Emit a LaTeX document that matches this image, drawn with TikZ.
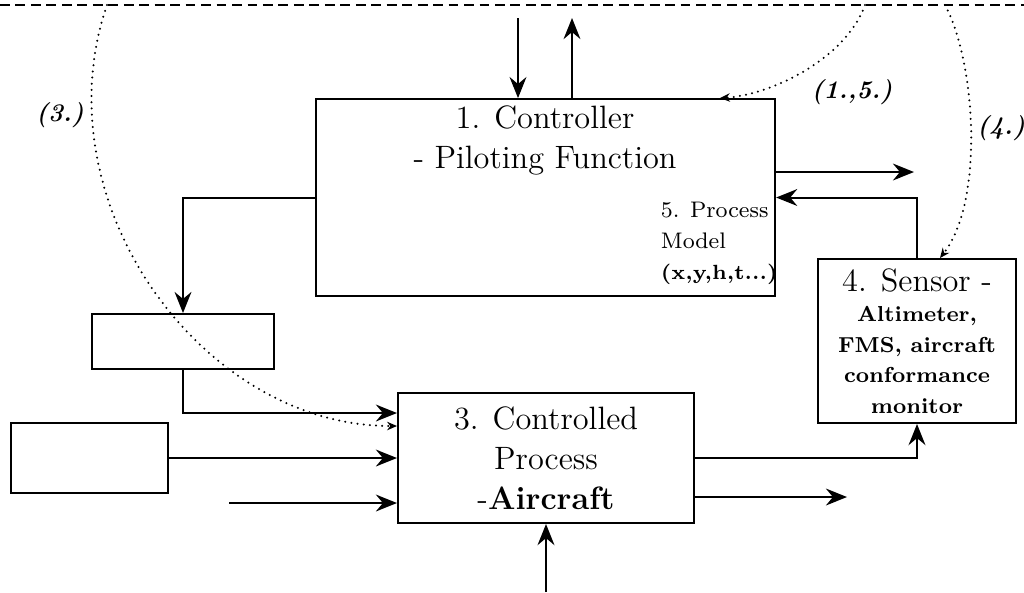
\documentclass[tikz,border=0pt]{standalone}
\usetikzlibrary{arrows.meta}
\newcommand\ctlfont{\fontsize{11.5}{14.2}\selectfont}
\newcommand\notefont{\fontsize{8}{11}\selectfont}
\tikzstyle{block} = [rectangle, draw, line width=0.7pt, inner sep=0pt]
\tikzstyle{bigtxt} = [font=\ctlfont, align=center]
\tikzstyle{notetxt} = [font=\notefont, align=left]
\tikzstyle{sensortxt} = [font=\fontsize{7.7}{10.8}\selectfont\bfseries, align=center]
\tikzstyle{tag} = [font=\fontsize{9}{10}\selectfont\bfseries\itshape]
\tikzstyle{flow} = [->, line width=0.7pt]
\tikzstyle{hint} = [-{Stealth[length=3.5pt,width=3pt]}, line width=0.8pt,
    line cap=round, dash pattern=on 0pt off 2.2pt]
\tikzstyle{border} = [line width=0.5pt, dash pattern=on 3.5pt off 2pt]

\begin{document}
\begin{tikzpicture}[x=0.0125cm,y=-0.0125cm,
                    >={Stealth[length=7.5pt,width=6pt,inset=2.5pt]}]
  \useasboundingbox (0,0) rectangle (1024,592);

  \node[block,minimum width=5.74cm,minimum height=2.46cm]  (ctrl)   at (545.5,197.5) {};
  \node[bigtxt]                                            (ctrltxt) at (545,140)    {1. Controller\\- Piloting Function};
  \node[notetxt,anchor=north west]                         (model)  at (651,192)
       {5. Process\\Model\\\fontsize{7.3}{11}\selectfont\bfseries(x,y,h,t...)};
  \node[block,sensortxt,minimum width=2.475cm,minimum height=2.05cm] (sensor) at (917,341)
       {{\ctlfont\mdseries 4. Sensor -}\\Altimeter,\\FMS, aircraft\\conformance\\monitor};
  \node[block,minimum width=2.275cm,minimum height=0.6875cm] (act)    at (183,341.5)  {};
  \node[block,bigtxt,minimum width=3.7cm,minimum height=1.625cm] (proc) at (546,458)
       {3. Controlled\\Process\\-\textbf{Aircraft}};
  \node[block,minimum width=1.9625cm,minimum height=0.875cm] (dist)   at (89.5,458)   {};

  \node[tag] (l3)  at (60,115)  {(3.)};
  \node[tag] (l15) at (852,92)  {(1.,5.)};
  \node[tag] (l4)  at (1001,128) {(4.)};

  \coordinate (setin)   at (518,18);
  \coordinate (fbout)   at (572,18);
  \coordinate (ctrlout) at (914,172);
  \coordinate (procin)  at (229,503);
  \coordinate (procout) at (847,497);
  \coordinate (env)     at (546,592);
  \coordinate (top3)    at (107,5);
  \coordinate (top15)   at (865,5);
  \coordinate (top4)    at (945,5);

  \draw[border] (0,5) -- (1024,5);

  \draw[flow] (setin) -- (setin |- ctrl.north);
  \draw[flow] (fbout |- ctrl.north) -- (fbout);
  \draw[flow] (ctrl.east |- ctrlout) -- (ctrlout);
  \draw[flow] (sensor.north) |- (ctrl.east);
  \draw[flow] (ctrl.west) -| (act.north);
  \draw[flow] (act.south) |- (proc.west |- 0,413);
  \draw[flow] (dist.east) -- (proc.west);
  \draw[flow] (procin) -- (proc.west |- procin);
  \draw[flow] (proc.east) -| (sensor.south);
  \draw[flow] (proc.east |- procout) -- (procout);
  \draw[flow] (env) -- (env |- proc.south);

  \draw[hint] (top3) .. controls (40,200) and (200,426) .. (proc.west |- 0,426);
  \draw[hint] (top15) .. controls (845,60) and (770,95) .. (ctrl.north -| 720,0);
  \draw[hint] (top4) .. controls (975,60) and (985,200) .. (sensor.north -| 940,0);
\end{tikzpicture}
\end{document}
